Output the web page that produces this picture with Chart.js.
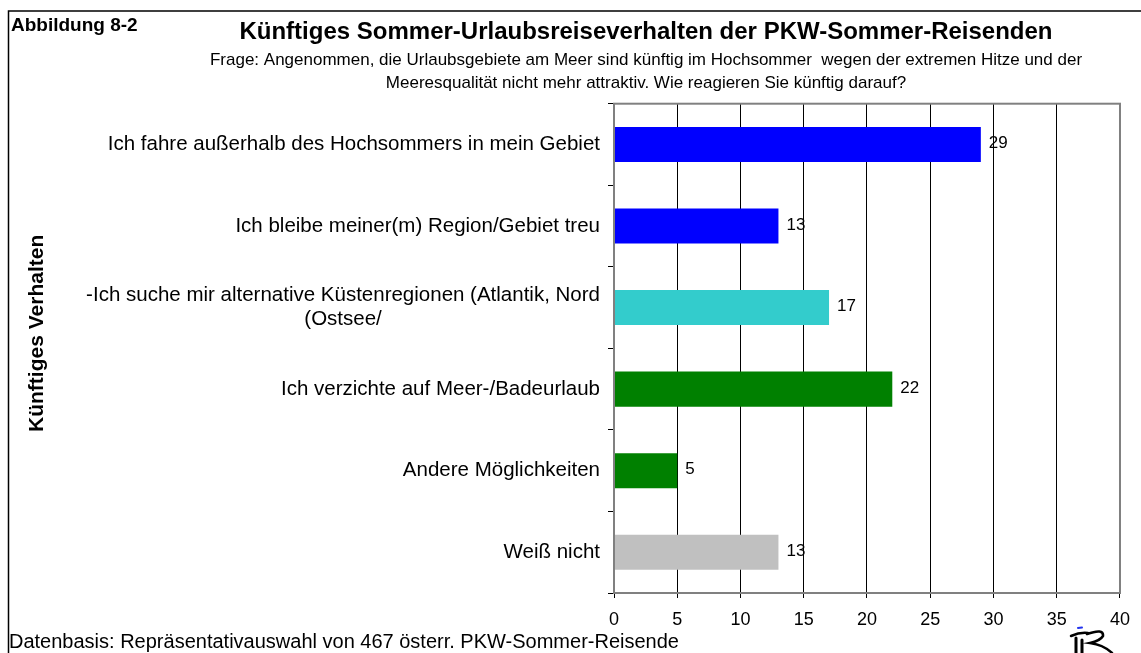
<!DOCTYPE html>
<html><head><meta charset="utf-8">
<script src="https://cdn.jsdelivr.net/npm/chart.js@4/dist/chart.umd.min.js"></script>
<style>html,body{margin:0;padding:0;background:#fff;} #wrap{width:1141px;height:653px;position:relative;}</style>
</head><body><div id="wrap"><canvas id="c" width="1141" height="653"></canvas></div>
<script>
const figureLabel = 'Abbildung 8-2';
const chartTitle = 'Künftiges Sommer-Urlaubsreiseverhalten der PKW-Sommer-Reisenden';
const chartSubtitle = [
  'Frage: Angenommen, die Urlaubsgebiete am Meer sind künftig im Hochsommer  wegen der extremen Hitze und der',
  'Meeresqualität nicht mehr attraktiv. Wie reagieren Sie künftig darauf?'
];
const axisTitle = 'Künftiges Verhalten';
const sourceNote = 'Datenbasis: Repräsentativauswahl von 467 österr. PKW-Sommer-Reisende';
const categories = [
  'Ich fahre außerhalb des Hochsommers in mein Gebiet',
  'Ich bleibe meiner(m) Region/Gebiet treu',
  ['-Ich suche mir alternative Küstenregionen (Atlantik, Nord', '(Ostsee/'],
  'Ich verzichte auf Meer-/Badeurlaub',
  'Andere Möglichkeiten',
  'Weiß nicht'
];
const values = [29, 13, 17, 22, 5, 13];
const barColors = ['#0000FF', '#0000FF', '#33CCCC', '#008000', '#008000', '#C0C0C0'];
const xMin = 0, xMax = 40, xStep = 5;

const FONT = "'Liberation Sans', Arial, Helvetica, sans-serif";
Chart.defaults.font.family = FONT;
Chart.defaults.color = '#000';

function drawLogo(ctx) {
  ctx.save();
  ctx.lineCap = 'round';
  ctx.strokeStyle = '#2233ee';
  ctx.lineWidth = 2;
  ctx.beginPath(); ctx.moveTo(1078, 628); ctx.lineTo(1082, 627.5); ctx.stroke();
  ctx.strokeStyle = '#000';
  ctx.lineWidth = 2.5;
  ctx.beginPath();
  ctx.moveTo(1071, 636); ctx.quadraticCurveTo(1080, 632, 1088, 633); ctx.stroke();
  ctx.lineWidth = 3;
  ctx.beginPath(); ctx.moveTo(1076, 638); ctx.lineTo(1076, 653); ctx.stroke();
  ctx.beginPath(); ctx.moveTo(1082, 640); ctx.lineTo(1082, 653); ctx.stroke();
  ctx.lineWidth = 2.5;
  ctx.beginPath();
  ctx.moveTo(1087, 634);
  ctx.quadraticCurveTo(1104, 628, 1103, 636);
  ctx.quadraticCurveTo(1100, 641, 1090, 643);
  ctx.quadraticCurveTo(1104, 645, 1112, 653);
  ctx.stroke();
  ctx.restore();
}

const decor = {
  id: 'decor',
  beforeDraw(chart) {
    const ctx = chart.ctx;
    ctx.save();
    ctx.fillStyle = '#fff';
    ctx.fillRect(0, 0, chart.width, chart.height);
    ctx.strokeStyle = '#000';
    ctx.lineWidth = 1.5;
    ctx.beginPath();
    ctx.moveTo(8.5, chart.height);
    ctx.lineTo(8.5, 11);
    ctx.lineTo(chart.width, 11);
    ctx.stroke();
    ctx.fillStyle = '#000';
    ctx.font = 'bold 19px ' + FONT;
    ctx.textAlign = 'left';
    ctx.textBaseline = 'alphabetic';
    ctx.fillText(figureLabel, 11, 31);
    ctx.font = '20px ' + FONT;
    ctx.fillText(sourceNote, 9, 648);
    ctx.restore();
    drawLogo(ctx);
  },
  afterDatasetsDraw(chart) {
    const {ctx, chartArea: a, scales} = chart;
    ctx.save();
    ctx.strokeStyle = '#808080';
    ctx.lineWidth = 2;
    ctx.strokeRect(a.left, a.top, a.right - a.left, a.bottom - a.top);
    const meta = chart.getDatasetMeta(0);
    ctx.fillStyle = '#000';
    ctx.font = '17px ' + FONT;
    ctx.textAlign = 'left';
    ctx.textBaseline = 'middle';
    meta.data.forEach((bar, i) => {
      ctx.fillText(String(values[i]), bar.x + 8, bar.y - 1);
    });
    ctx.font = '20.5px ' + FONT;
    const ys = scales.y;
    const xr = a.left - 14;
    categories.forEach((lab, i) => {
      const cy = ys.getPixelForValue(i);
      if (Array.isArray(lab)) {
        const lh = 24;
        const w = Math.max(...lab.map(l => ctx.measureText(l).width));
        ctx.textAlign = 'center';
        lab.forEach((l, k) => ctx.fillText(l, xr - w / 2, cy + (k - (lab.length - 1) / 2) * lh));
      } else {
        ctx.textAlign = 'right';
        ctx.fillText(lab, xr, cy);
      }
    });
    ctx.translate(37, (a.top + a.bottom) / 2 - 15);
    ctx.rotate(-Math.PI / 2);
    ctx.font = 'bold 21px ' + FONT;
    ctx.textAlign = 'center';
    ctx.fillText(axisTitle, 0, 0);
    ctx.restore();
  }
};

new Chart(document.getElementById('c'), {
  type: 'bar',
  data: {
    labels: categories,
    datasets: [{
      data: values,
      backgroundColor: barColors,
      borderWidth: 0,
      barPercentage: 0.43,
      categoryPercentage: 1
    }]
  },
  options: {
    indexAxis: 'y',
    responsive: false,
    animation: false,
    devicePixelRatio: 1,
    layout: { padding: { left: 172, right: 21, top: 0, bottom: 0 } },
    plugins: {
      legend: { display: false },
      tooltip: { enabled: false },
      title: {
        display: true,
        text: chartTitle,
        font: { size: 24, weight: 'bold', family: FONT },
        color: '#000',
        padding: { top: 18, bottom: 0 }
      },
      subtitle: {
        display: true,
        text: chartSubtitle,
        font: { size: 17, family: FONT, lineHeight: 1.35 },
        color: '#000',
        padding: { top: 2, bottom: 9 }
      }
    },
    scales: {
      x: {
        min: xMin, max: xMax,
        ticks: { stepSize: xStep, font: { size: 18 }, color: '#000', padding: 11, maxRotation: 0 },
        grid: { color: '#000', lineWidth: 1, drawTicks: true, tickLength: 5 },
        border: { color: '#808080', width: 2 },
        afterFit(scale) { scale.height = 60; }
      },
      y: {
        ticks: { display: false },
        grid: { drawOnChartArea: false, drawTicks: true, tickLength: 6, color: '#000', offset: true },
        border: { color: '#808080', width: 2 },
        afterFit(scale) { scale.width = 442; }
      }
    }
  },
  plugins: [decor]
});
</script>
</body></html>
